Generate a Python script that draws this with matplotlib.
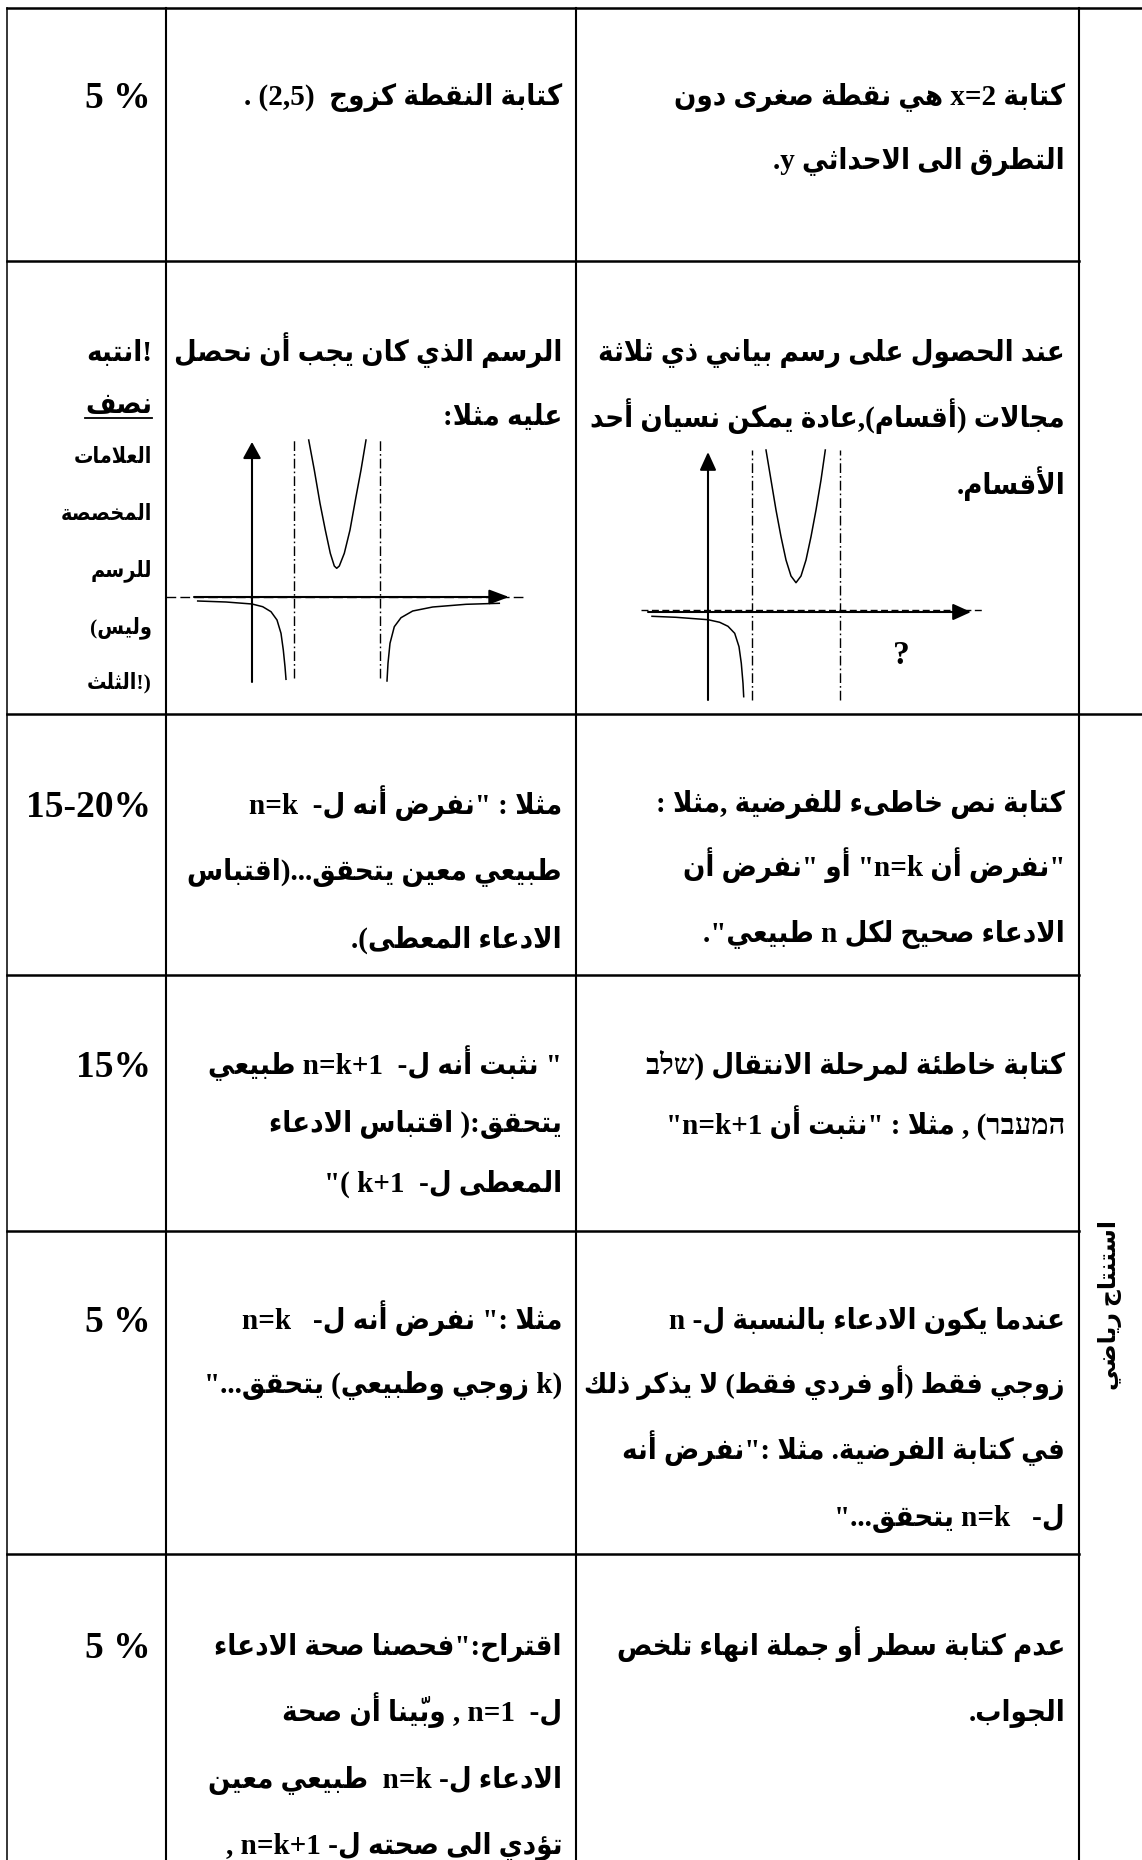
import matplotlib
matplotlib.use("Agg")
import matplotlib.pyplot as plt

plt.rcParams['lines.scale_dashes'] = False

W, H, DPI = 1142, 1860, 100
FAM = ['Liberation Serif', 'DejaVu Sans']

# ------------------------------------------------------------------ data
percent_labels = ["5 %", "15-20%", "15%", "5 %", "5 %"]          # rows 1,3,4,5,6

mistake_r1 = ["كتابة x=2 هي نقطة صغرى دون", "التطرق الى الاحداثي y."]
correct_r1 = ["كتابة النقطة كزوج  (2,5) ."]

mistake_r2 = ["عند الحصول على رسم بياني ذي ثلاثة",
              "مجالات (أقسام),عادة يمكن نسيان أحد",
              "الأقسام."]
correct_r2 = ["الرسم الذي كان يجب أن نحصل", "عليه مثلا:"]
note_r2_head = ["انتبه!", "نصف"]
note_r2_body = ["العلامات", "المخصصة", "للرسم", "(وليس", "الثلث!)"]

mistake_r3 = ["كتابة نص خاطىء للفرضية ,مثلا :",
              "\"نفرض أن n=k\" أو \"نفرض أن",
              "الادعاء صحيح لكل n طبيعي\"."]
correct_r3 = ["مثلا : \"نفرض أنه ل-  n=k",
              "طبيعي معين يتحقق...(اقتباس",
              "الادعاء المعطى)."]

mistake_r4 = ["كتابة خاطئة لمرحلة الانتقال (שלב",
              "המעבר) , مثلا : \"نثبت أن n=k+1\""]
correct_r4 = ["\" نثبت أنه ل-  n=k+1 طبيعي",
              "يتحقق:( اقتباس الادعاء",
              "المعطى ل-  k+1 )\""]

mistake_r5 = ["عندما يكون الادعاء بالنسبة ل- n",
              "زوجي فقط (أو فردي فقط) لا يذكر ذلك",
              "في كتابة الفرضية. مثلا :\"نفرض أنه",
              "ل-   n=k يتحقق...\""]
correct_r5 = ["مثلا :\" نفرض أنه ل-   n=k",
              "(k زوجي وطبيعي) يتحقق...\""]

mistake_r6 = ["عدم كتابة سطر أو جملة انهاء تلخص", "الجواب."]
correct_r6 = ["اقتراح:\"فحصنا صحة الادعاء",
              "ل-  n=1 , وبيّنا أن صحة",
              "الادعاء ل- n=k  طبيعي معين",
              "تؤدي الى صحته ل- n=k+1 ,"]

topic_label = "استنتاج رياضي"

# sketch graphs (units of 10 px, origin at axes crossing)
good_left_x = [-5.43, -2.6, 0.0, 1.07, 1.9, 2.5, 2.9, 3.13, 3.3, 3.4]
good_left_y = [-0.4, -0.5, -0.7, -0.97, -1.47, -2.3, -3.63, -5.3, -6.97, -8.23]
good_mid_x = [5.67, 6.23, 6.8, 7.33, 7.83, 8.23, 8.47, 8.73, 9.23, 9.8, 10.4, 10.9, 11.4]
good_mid_y = [15.7, 12.7, 9.37, 6.7, 4.37, 3.1, 2.87, 3.1, 4.37, 6.7, 10.03, 12.7, 15.7]
good_right_x = [13.5, 13.6, 13.8, 14.23, 14.9, 16.07, 18.07, 21.4, 24.73]
good_right_y = [-8.4, -6.63, -4.63, -2.97, -2.07, -1.4, -1.0, -0.73, -0.63]
good_asym = [4.2, 12.8]

bad_left_x = [-5.6, -3.2, 0.0, 1.17, 2.0, 2.67, 3.1, 3.33, 3.5, 3.57]
bad_left_y = [-0.43, -0.53, -0.77, -1.03, -1.43, -2.13, -3.47, -5.13, -7.13, -8.47]
bad_mid_x = [5.8, 6.3, 6.8, 7.3, 7.8, 8.3, 8.8, 9.3, 9.8, 10.3, 10.8, 11.3, 11.73]
bad_mid_y = [16.2, 13.2, 10.2, 7.53, 5.2, 3.6, 2.93, 3.6, 5.2, 7.53, 10.2, 13.2, 16.2]
bad_asym = [4.37, 13.2]
bad_mark = "?"

# ------------------------------------------------------------------ arabic shaping / bidi
_T = {
    0x0621: (0xFE80, 0, 0, 0), 0x0622: (0xFE81, 0xFE82, 0, 0),
    0x0623: (0xFE83, 0xFE84, 0, 0), 0x0624: (0xFE85, 0xFE86, 0, 0),
    0x0625: (0xFE87, 0xFE88, 0, 0), 0x0626: (0xFE89, 0xFE8A, 0xFE8B, 0xFE8C),
    0x0627: (0xFE8D, 0xFE8E, 0, 0), 0x0628: (0xFE8F, 0xFE90, 0xFE91, 0xFE92),
    0x0629: (0xFE93, 0xFE94, 0, 0), 0x062A: (0xFE95, 0xFE96, 0xFE97, 0xFE98),
    0x062B: (0xFE99, 0xFE9A, 0xFE9B, 0xFE9C), 0x062C: (0xFE9D, 0xFE9E, 0xFE9F, 0xFEA0),
    0x062D: (0xFEA1, 0xFEA2, 0xFEA3, 0xFEA4), 0x062E: (0xFEA5, 0xFEA6, 0xFEA7, 0xFEA8),
    0x062F: (0xFEA9, 0xFEAA, 0, 0), 0x0630: (0xFEAB, 0xFEAC, 0, 0),
    0x0631: (0xFEAD, 0xFEAE, 0, 0), 0x0632: (0xFEAF, 0xFEB0, 0, 0),
    0x0633: (0xFEB1, 0xFEB2, 0xFEB3, 0xFEB4), 0x0634: (0xFEB5, 0xFEB6, 0xFEB7, 0xFEB8),
    0x0635: (0xFEB9, 0xFEBA, 0xFEBB, 0xFEBC), 0x0636: (0xFEBD, 0xFEBE, 0xFEBF, 0xFEC0),
    0x0637: (0xFEC1, 0xFEC2, 0xFEC3, 0xFEC4), 0x0638: (0xFEC5, 0xFEC6, 0xFEC7, 0xFEC8),
    0x0639: (0xFEC9, 0xFECA, 0xFECB, 0xFECC), 0x063A: (0xFECD, 0xFECE, 0xFECF, 0xFED0),
    0x0641: (0xFED1, 0xFED2, 0xFED3, 0xFED4), 0x0642: (0xFED5, 0xFED6, 0xFED7, 0xFED8),
    0x0643: (0xFED9, 0xFEDA, 0xFEDB, 0xFEDC), 0x0644: (0xFEDD, 0xFEDE, 0xFEDF, 0xFEE0),
    0x0645: (0xFEE1, 0xFEE2, 0xFEE3, 0xFEE4), 0x0646: (0xFEE5, 0xFEE6, 0xFEE7, 0xFEE8),
    0x0647: (0xFEE9, 0xFEEA, 0xFEEB, 0xFEEC), 0x0648: (0xFEED, 0xFEEE, 0, 0),
    0x0649: (0xFEEF, 0xFEF0, 0, 0), 0x064A: (0xFEF1, 0xFEF2, 0xFEF3, 0xFEF4),
}
_LAMALEF = {0x0622: (0xFEF5, 0xFEF6), 0x0623: (0xFEF7, 0xFEF8),
            0x0625: (0xFEF9, 0xFEFA), 0x0627: (0xFEFB, 0xFEFC)}
_MIRROR = {'(': ')', ')': '(', '[': ']', ']': '[', '{': '}', '}': '{', '<': '>', '>': '<'}


def _is_mark(c):
    o = ord(c)
    return 0x064B <= o <= 0x065F or o == 0x0670


def _shape(s):
    ch = list(s)
    n = len(ch)
    out = []

    def prev_letter(i):
        j = i - 1
        while j >= 0 and _is_mark(ch[j]):
            j -= 1
        return ch[j] if j >= 0 else None

    def next_letter(i):
        j = i + 1
        while j < n and _is_mark(ch[j]):
            j += 1
        return (ch[j], j) if j < n else (None, None)

    i = 0
    while i < n:
        c = ch[i]
        o = ord(c)
        if o in _T:
            p = prev_letter(i)
            join_prev = p is not None and ord(p) in _T and _T[ord(p)][2] != 0
            nx, j = next_letter(i)
            if o == 0x0644 and nx is not None and ord(nx) in _LAMALEF:
                lig = _LAMALEF[ord(nx)]
                out.append(chr(lig[1] if join_prev else lig[0]))
                out.extend(ch[i + 1:j])
                i = j + 1
                continue
            iso, fin, ini, med = _T[o]
            join_next = ini != 0 and nx is not None and ord(nx) in _T and _T[ord(nx)][1] != 0
            if fin == 0:
                join_prev = False
            if join_prev and join_next:
                g = med
            elif join_prev:
                g = fin
            elif join_next:
                g = ini
            else:
                g = iso
            out.append(chr(g or iso))
        else:
            out.append(c)
        i += 1
    return ''.join(out)


def _cls(c):
    o = ord(c)
    if 0x0590 <= o <= 0x08FF or 0xFB1D <= o <= 0xFEFC:
        return 'R'
    if c.isascii() and c.isalnum():
        return 'L'
    return 'N'


def visual(s, base='R'):
    """Shape Arabic letters and reorder a logical string for left-to-right drawing."""
    s = _shape(s)
    toks = []
    for c in s:
        if toks and _is_mark(c):
            toks[-1] += c
        else:
            toks.append(c)
    cls = [_cls(t[0]) for t in toks]
    if 'R' not in cls:
        return s
    n = len(toks)
    res = cls[:]
    for i in range(n):
        if cls[i] == 'N':
            a = next((cls[j] for j in range(i - 1, -1, -1) if cls[j] != 'N'), base)
            b = next((cls[j] for j in range(i + 1, n) if cls[j] != 'N'), base)
            res[i] = a if a == b else base
    if base == 'R':
        order = list(range(n))[::-1]
        out = []
        i = 0
        while i < n:
            if res[order[i]] == 'L':
                j = i
                while j < n and res[order[j]] == 'L':
                    j += 1
                out.extend(order[i:j][::-1])
                i = j
            else:
                out.append(order[i])
                i += 1
    else:
        out = []
        i = 0
        while i < n:
            if res[i] == 'R':
                j = i
                while j < n and res[j] == 'R':
                    j += 1
                out.extend(range(j - 1, i - 1, -1))
                i = j
            else:
                out.append(i)
                i += 1
    return ''.join(_MIRROR.get(toks[k], toks[k]) if res[k] == 'R' else toks[k] for k in out)


# ------------------------------------------------------------------ figure
fig = plt.figure(figsize=(W / DPI, H / DPI), dpi=DPI)
ax = fig.add_axes([0, 0, 1, 1])
ax.set_xlim(0, W)
ax.set_ylim(H, 0)
ax.axis('off')

# table grid
X_L, X_C1, X_C2, X_C3, X_R = 7, 166, 576, 1079, W
Y_ROWS = [8, 261, 714, 975, 1231, 1554]
for k, y in enumerate(Y_ROWS):
    x_end = X_R if k in (0, 2) else X_C3
    ax.plot([X_L, x_end], [y, y], color='black', lw=1.8, solid_capstyle='projecting')
ax.plot([X_L, X_L], [Y_ROWS[0], H], color='black', lw=1.1)
for x in (X_C1, X_C2, X_C3):
    ax.plot([x, x], [Y_ROWS[0], H], color='black', lw=1.5)

FS = 21
FS_SMALL = 15.5
X_P, X_M, X_K, X_N = 151, 562, 1065, 152     # right edges: percent, correction, mistake, note
MAXW = {X_M: X_M - X_C1 - 8, X_K: X_K - X_C2 - 8, X_N: X_N - X_L - 6}

to_fit = []


def put_lines(x, centers, lines, size=FS, base='R'):
    arts = []
    em = size * DPI / 72.0
    for yc, s in zip(centers, lines):
        t = ax.text(x, yc + 0.35 * em, visual(s, base), ha='right', va='baseline',
                    fontsize=size, fontweight='bold', fontstretch='condensed',
                    family=FAM, color='black')
        arts.append(t)
        to_fit.append((t, MAXW[x]))
    return arts


pct_centers = [95, 804, 1064, 1319, 1645]
for yc, s in zip(pct_centers, percent_labels):
    ax.text(X_P, yc + 0.35 * 27 * DPI / 72, s, ha='right', va='baseline', fontsize=27,
            fontweight='bold', family=FAM, color='black')

put_lines(X_K, [95, 159], mistake_r1)
put_lines(X_M, [95], correct_r1)
put_lines(X_K, [351, 417, 484], mistake_r2)
put_lines(X_M, [351, 415], correct_r2)
head_arts = put_lines(X_N, [351, 403], note_r2_head, size=FS, base='L')
put_lines(X_N, [455, 512, 569, 626, 681], note_r2_body, size=FS_SMALL, base='L')
put_lines(X_K, [802, 866, 932], mistake_r3)
put_lines(X_M, [804, 870, 937], correct_r3)
put_lines(X_K, [1064, 1124], mistake_r4)
put_lines(X_M, [1064, 1122, 1181], correct_r4)
put_lines(X_K, [1319, 1383, 1449, 1516], mistake_r5)
put_lines(X_M, [1319, 1383], correct_r5)
put_lines(X_K, [1645, 1711], mistake_r6)
put_lines(X_M, [1645, 1711, 1778, 1844], correct_r6)

ax.text(1110, 1305, visual(topic_label), rotation=90, ha='center', va='center',
        fontsize=17, fontweight='bold', family=FAM, color='black')

# shrink any line that would not fit inside its cell
fig.canvas.draw()
renderer = fig.canvas.get_renderer()
for t, mw in to_fit:
    w = t.get_window_extent(renderer).width
    if w > mw:
        t.set_fontsize(t.get_fontsize() * mw / w)

# underline the word in the note column
fig.canvas.draw()
bb = head_arts[1].get_window_extent(renderer)
inv = ax.transData.inverted()
(ux0, _), (ux1, _) = inv.transform([(bb.x0, bb.y0), (bb.x1, bb.y0)])
ax.plot([ux0, ux1], [418, 418], color='black', lw=1.3)


# ------------------------------------------------------------------ sketch graphs
def graph_axes(ox, oy, xmin, xmax, ymin, ymax):
    g = fig.add_axes([(ox + xmin * 10) / W, (H - (oy - ymin * 10)) / H,
                      (xmax - xmin) * 10 / W, (ymax - ymin) * 10 / H])
    g.set_xlim(xmin, xmax)
    g.set_ylim(ymin, ymax)
    g.axis('off')
    g.patch.set_alpha(0)
    return g


def arrow(g, p0, p1, hl, hw):
    g.annotate('', xy=p1, xytext=p0,
               arrowprops=dict(arrowstyle=f'-|>,head_length={hl},head_width={hw}',
                               lw=1.5, color='black', shrinkA=0, shrinkB=0,
                               mutation_scale=1))


DASHDOT = (0, (7, 2.2, 1.2, 2.2))

# correct graph (middle column)
g1 = graph_axes(252, 597, -9.0, 28.0, -9.0, 16.5)
g1.plot([-8.6, 27.1], [0, 0], color='black', lw=1.0, ls=(0, (7, 3)))
for a in good_asym:
    g1.plot([a, a], [-8.1, 15.7], color='black', lw=1.0, ls=DASHDOT)
arrow(g1, (-5.8, 0), (25.7, 0), 12, 4.5)
arrow(g1, (0, -8.5), (0, 15.5), 10, 5.5)
for xs, ys in ((good_left_x, good_left_y), (good_mid_x, good_mid_y),
               (good_right_x, good_right_y)):
    g1.plot(xs, ys, color='black', lw=1.1, solid_joinstyle='round')

# forgotten-branch graph (right column)
g2 = graph_axes(708, 612, -7.5, 29.0, -9.5, 17.0)
g2.plot([-6.7, 27.6], [0.25, 0.25], color='black', lw=1.0, ls=(0, (5, 2.5)))
for a in bad_asym:
    g2.plot([a, a], [-8.8, 16.2], color='black', lw=1.0, ls=DASHDOT)
arrow(g2, (-6.0, 0), (26.3, 0), 11, 5)
arrow(g2, (0, -8.8), (0, 16.0), 11, 5)
for xs, ys in ((bad_left_x, bad_left_y), (bad_mid_x, bad_mid_y)):
    g2.plot(xs, ys, color='black', lw=1.1, solid_joinstyle='round')
g2.text(19.3, -4.3, bad_mark, ha='center', va='center', fontsize=24,
        fontweight='bold', family=FAM, color='black')

fig.savefig('out.png', dpi=DPI)
